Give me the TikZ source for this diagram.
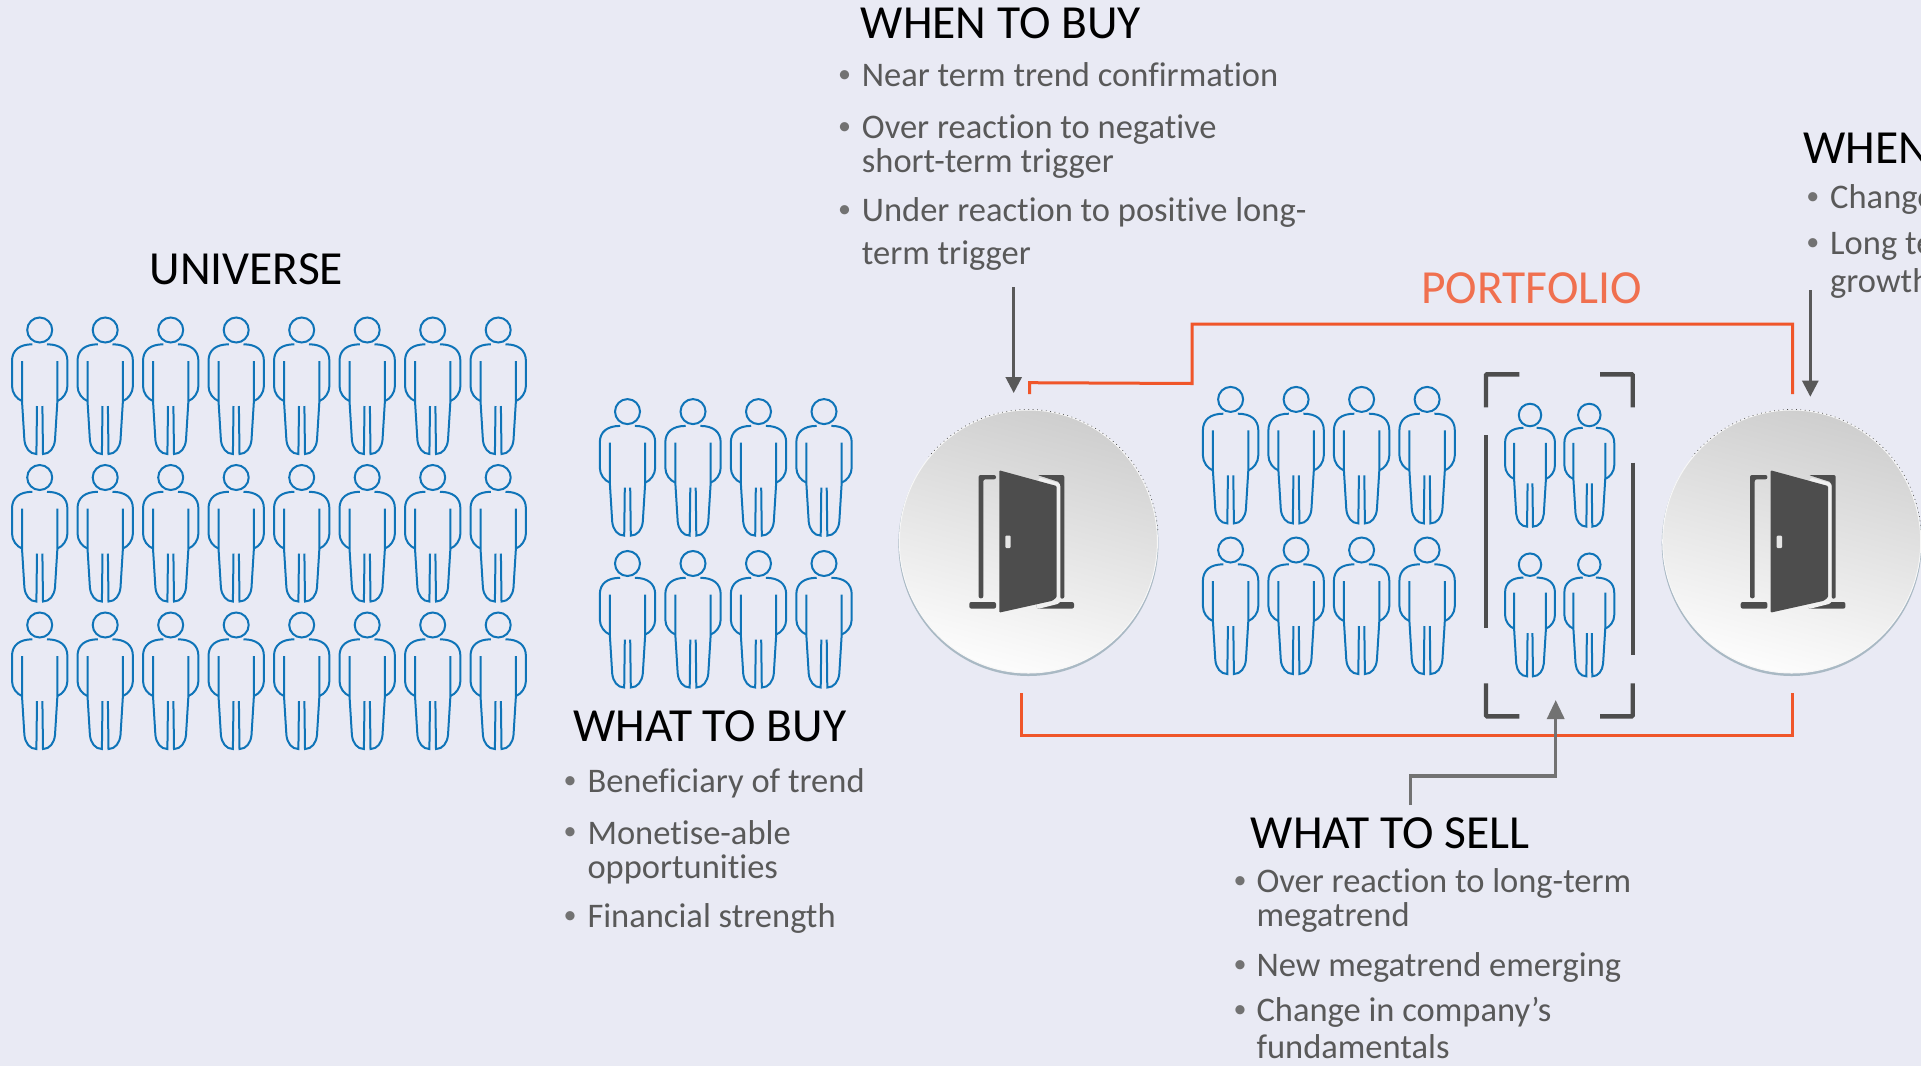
\documentclass[tikz,border=0pt]{standalone}
\usepackage{fontspec}
\setmainfont[Ligatures=NoCommon]{Carlito}
\usetikzlibrary{arrows.meta,shapes.geometric}
\definecolor{paper}{HTML}{E9EAF4}
\definecolor{peopleblue}{HTML}{0F74B8}
\definecolor{bodygray}{HTML}{595959}
\definecolor{doorgray}{HTML}{4D4D4D}
\definecolor{linered}{HTML}{F0562A}
\definecolor{titlered}{HTML}{F0704F}
\definecolor{rimblue}{HTML}{A9B9C4}
\tikzset{
    person/.pic={
        \draw [peopleblue,line width=2pt] (0,0) circle (12.5);
        \foreach \s in {1,-1} {
            \draw [peopleblue,line width=2pt,xscale=\s] (-7.3,14.3) .. controls (-20,14.3) and (-27.7,20) .. (-27.7,31) -- (-27.7,56) .. controls (-27.7,63) and (-23,69) .. (-17.7,71);
            \draw [peopleblue,line width=2pt,xscale=\s] (-17.7,31) -- (-17.7,71) -- (-15.3,110) .. controls (-14.5,118) and (-10,124) .. (-3.3,124) -- (-2.7,76);
        }
    },
    door/.pic={
        \fill [doorgray,rounded corners=2pt] (-49.7,56) -- (-49.7,-67.3) -- (-32.3,-67.3) -- (-32.3,-63) -- (-45,-63) -- (-45,56) -- cycle;
        \fill [doorgray,rounded corners=2pt] (-59,59.7) rectangle (-32.3,66.3);
        \fill [doorgray,rounded corners=2pt] (9,-67.3) -- (36,-67.3) -- (36,56.3) -- (31.7,56.3) -- (31.7,-60) -- cycle;
        \fill [doorgray,rounded corners=2pt] (8.3,59.7) rectangle (45.7,66.3);
        \fill [white!94!black,rounded corners=3pt] (10,-65) -- (32,-59) -- (32,61) -- (8,67) -- cycle;
        \fill [doorgray,rounded corners=1pt] (-29,-72) -- (28.3,-56.3) -- (28.3,55) -- (24,58.5) -- (-29,70.3) -- cycle;
        \fill [white!90!black,rounded corners=1pt] (-23,-6.7) rectangle (-17.7,5.7);
    }
}
\begin{document}
\begin{tikzpicture}[x=1pt,y=-1pt,
        heading/.style={anchor=base west,yshift=-1.2pt,text=black,font=\fontsize{47.5}{49}\selectfont},
        bodytext/.style={anchor=base west,yshift=-1.2pt,text=bodygray,align=left,font=\fontsize{34.5}{34}\selectfont},
        bulletmark/.style={anchor=base,yshift=3pt,text=bodygray!85!white,font=\fontsize{26}{28}\selectfont},
        doorcircle/.style={ellipse,minimum width=258pt,minimum height=263pt,top color=white!81!black,bottom color=white!99!black,shading angle=-15,draw=white!97!black,line width=1pt},
        rimdisc/.style={ellipse,minimum width=260pt,minimum height=265pt,fill=rimblue},
        speckle/.style={black!70,line width=0.7pt,dash pattern=on 0.8pt off 3.6pt},
        arrowline/.style={bodygray,line width=2.6pt,-{Triangle[length=16pt,width=16pt]}},
        bigarrowline/.style={bodygray!85!white,line width=3.4pt,-{Triangle[length=19pt,width=17pt]}},
        redline/.style={linered,line width=3pt},
        bracketline/.style={doorgray,line width=4.4pt}]
    \tikzstyle{every node}+=[inner sep=0pt]
    \useasboundingbox [fill=paper] (0,0) rectangle (1921,1066);

    % universe
    \foreach \px in {0,...,7} {
        \foreach \py in {330,477.5,625} {
            \pic at (39.7+65.5*\px,\py) {person};
        }
    }
    % what to buy
    \foreach \px in {0,...,3} {
        \foreach \py in {411.6,563.5} {
            \pic at (627.5+65.5*\px,\py) {person};
        }
    }
    % portfolio
    \foreach \px in {0,...,3} {
        \foreach \py in {399.4,550} {
            \pic at (1230.6+65.5*\px,\py) {person};
        }
    }
    \foreach \px in {1530,1589.3} {
        \foreach \py in {415,564.7} {
            \pic [scale=0.9] at (\px,\py) {person};
        }
    }

    % doors
    \node [rimdisc] (enterrim) at (1028.4,543.5) {};
    \node [doorcircle] (enterdoor) at (1028.4,541.5) {};
    \draw [speckle] (1028.4,541.5) ++(-5:130 and 132) arc [start angle=-5,end angle=-140,x radius=130,y radius=132];
    \pic at (1028.3,542.3) {door};
    \node [rimdisc] (exitrim) at (1791.7,543.5) {};
    \node [doorcircle] (exitdoor) at (1791.7,541.5) {};
    \draw [speckle] (1791.7,541.5) ++(-5:130 and 132) arc [start angle=-5,end angle=-140,x radius=130,y radius=132];
    \pic at (1799.7,542.3) {door};

    % brackets
    \draw [bracketline,rounded corners=1pt] (1519.3,374.3) -- (1486,374.3) -- (1486,407.3);
    \draw [bracketline] (1486,435) -- (1486,627.7);
    \draw [bracketline,rounded corners=1pt] (1486,683.3) -- (1486,716.3) -- (1519.3,716.3);
    \draw [bracketline,rounded corners=1pt] (1600,374.3) -- (1632.7,374.3) -- (1632.7,407.3);
    \draw [bracketline] (1632.7,462.7) -- (1632.7,655.3);
    \draw [bracketline,rounded corners=1pt] (1632.7,683.3) -- (1632.7,716.3) -- (1600,716.3);

    % portfolio outline
    \coordinate (topstart) at (1029.7,394);
    \coordinate (topstep) at (1029.7,382.7);
    \coordinate (topbend) at (1192,383.5);
    \coordinate (topleft) at (1192,324);
    \coordinate (topright) at (1792.7,324);
    \coordinate (topend) at (1792.7,394);
    \coordinate (lowstart) at (1021.7,693.4);
    \coordinate (lowleft) at (1021.7,735);
    \coordinate (lowright) at (1792.7,735);
    \coordinate (lowend) at (1792.7,693.4);
    \draw [redline] (topstart) -- (topstep) -- (topbend) -- (topleft) -- (topright) -- (topend);
    \draw [redline] (lowstart) -- (lowleft) -- (lowright) -- (lowend);

    % arrows
    \coordinate (buyfrom) at (1013.7,287);
    \coordinate (buytip) at (1013.7,393);
    \coordinate (sellfrom) at (1810.3,290);
    \coordinate (selltip) at (1810.3,396.7);
    \coordinate (whatfrom) at (1410.5,805);
    \coordinate (whatbend) at (1410.5,776);
    \coordinate (whatturn) at (1555.7,776);
    \coordinate (whattip) at (1555.7,700);
    \draw [arrowline] (buyfrom) -- (buytip);
    \draw [arrowline] (sellfrom) -- (selltip);
    \draw [bigarrowline] (whatfrom) -- (whatbend) -- (whatturn) -- (whattip);

    % titles
    \node [heading] (universe) at (149.5,283) {UNIVERSE};
    \node [heading,text=titlered] (portfolio) at (1421,302.3) {PORTFOLIO};

    % when to buy
    \node [heading] (whenbuy) at (860.7,37.3) {WHEN TO BUY};
    \node [bulletmark] (whenbuyda) at (844.7,85) {•};
    \node [bodytext] (whenbuya) at (861.7,85) {Near term trend confirmation};
    \node [bulletmark] (whenbuydb) at (844.7,137.7) {•};
    \node [bodytext] (whenbuyb) at (861.7,171.7) {Over reaction to negative\\short-term trigger};
    \node [bulletmark] (whenbuydc) at (844.7,220.7) {•};
    \node [bodytext] (whenbuyc) at (861.7,263.3) {Under reaction to positive long-\\[8.6pt]term trigger};

    % what to buy
    \node [heading] (whatbuy) at (573.3,740.7) {WHAT TO BUY};
    \node [bulletmark] (whatbuyda) at (570,791.7) {•};
    \node [bodytext] (whatbuya) at (587.3,791.7) {Beneficiary of trend};
    \node [bulletmark] (whatbuydb) at (570,842.7) {•};
    \node [bodytext] (whatbuyb) at (587.3,877.3) {Monetise-able\\opportunities};
    \node [bulletmark] (whatbuydc) at (570,926.7) {•};
    \node [bodytext] (whatbuyc) at (587.3,926.7) {Financial strength};

    % what to sell
    \node [heading] (whatsell) at (1250.7,847.3) {WHAT TO SELL};
    \node [bulletmark] (whatsellda) at (1240,891) {•};
    \node [bodytext] (whatsella) at (1256.3,925) {Over reaction to long-term\\megatrend};
    \node [bulletmark] (whatselldb) at (1240,975.3) {•};
    \node [bodytext] (whatsellb) at (1256.3,975.3) {New megatrend emerging};
    \node [bulletmark] (whatselldc) at (1240,1020.7) {•};
    \node [bodytext] (whatsellc) at (1256.3,1057.3) {Change in company’s\\[2.6pt]fundamentals};

    % when to sell, cut by the edge
    \node [heading] (whensell) at (1803.3,162.3) {WHEN};
    \node [bulletmark] (whenselld) at (1812.7,207.3) {•};
    \node [bodytext] (whensella) at (1830,207.3) {Change};
    \node [bulletmark] (whenselldb) at (1812.7,253.3) {•};
    \node [bodytext] (whensellb) at (1830,291.7) {Long te\\[4.4pt]growth};
\end{tikzpicture}
\end{document}
